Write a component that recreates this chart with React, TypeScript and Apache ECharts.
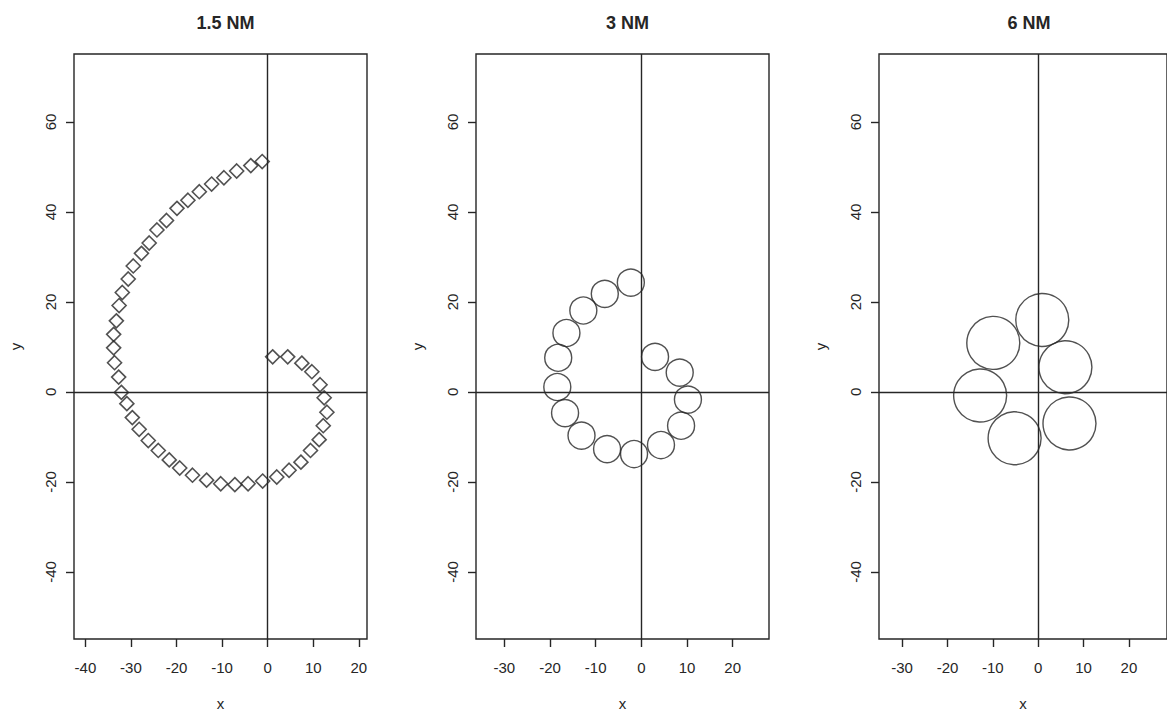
import React, { useEffect, useRef } from "react";
import * as echarts from "echarts";

const panelTitles = ["1.5 NM", "3 NM", "6 NM"];

// [x, y] centres
const nm15Points: number[][] = [
  [-1.2, 51.2], [-3.7, 50.3], [-6.8, 49.1], [-9.6, 47.6], [-12.3, 46.2], [-15.0, 44.5],
  [-17.5, 42.6], [-19.9, 40.8], [-22.2, 38.1], [-24.3, 36.0], [-26.0, 33.1], [-27.7, 30.8],
  [-29.5, 28.0], [-30.6, 25.1], [-31.9, 22.1], [-32.6, 19.2], [-33.2, 15.8], [-33.8, 12.8],
  [-33.8, 9.8], [-33.6, 6.5], [-32.7, 3.3], [-32.1, -0.1], [-30.9, -2.6], [-29.7, -5.7],
  [-28.2, -8.3], [-26.2, -10.8], [-24.0, -13.0], [-21.6, -15.1], [-19.3, -16.9], [-16.5, -18.5],
  [-13.4, -19.6], [-10.3, -20.4], [-7.2, -20.6], [-4.3, -20.4], [-1.1, -19.8], [2.0, -18.9],
  [4.7, -17.4], [7.3, -15.6], [9.4, -13.0], [11.3, -10.6], [12.2, -7.5], [13.0, -4.5],
  [12.4, -1.3], [11.5, 1.6], [9.7, 4.5], [7.5, 6.4], [4.4, 7.8], [1.1, 7.8],
];

const nm3Points: number[][] = [
  [-2.3, 24.3], [-8.0, 21.8], [-12.7, 18.1], [-16.4, 13.1], [-18.2, 7.6], [-18.4, 1.1],
  [-16.7, -4.7], [-13.1, -9.7], [-7.5, -12.7], [-1.6, -13.8], [4.3, -11.8], [8.7, -7.5],
  [10.2, -1.7], [8.4, 4.3], [3.0, 7.8],
];

const nm6Points: number[][] = [
  [0.9, 16.0], [-9.9, 10.9], [6.0, 5.5], [-12.8, -0.8], [6.9, -7.0], [-5.2, -10.3],
];

const yTicks = [-40, -20, 0, 20, 40, 60];
const xTicks1 = [-40, -30, -20, -10, 0, 10, 20];
const xTicks2 = [-30, -20, -10, 0, 10, 20];
const xTicks3 = [-30, -20, -10, 0, 10, 20];

const xRanges = [
  [-42.5, 21.8],
  [-36.2, 27.95],
  [-35.1, 28.4],
];
const yRange = [-54.9, 75.1];

const FONT = "'Liberation Sans', Arial, sans-serif";
const INK = "#262626";

export default function App() {
  const ref = useRef<HTMLDivElement>(null);
  useEffect(() => {
    if (!ref.current) return;
    const chart = echarts.init(ref.current, null, { renderer: "svg" });
    const grids = [
      { left: 74, top: 54, width: 293, height: 591 },
      { left: 476, top: 54, width: 293, height: 591 },
      { left: 879, top: 54, width: 290, height: 591 },
    ];
    const xTickSets = [xTicks1, xTicks2, xTicks3];
    const pointSets = [nm15Points, nm3Points, nm6Points];
    const symbols = ["diamond", "circle", "circle"];
    const sizes = [14, 27, 53];
    const strokes = [1.6, 1.4, 1.4];

    const option: any = {
      animation: false,
      backgroundColor: "#ffffff",
      textStyle: { fontFamily: FONT },
      title: panelTitles.map((t, i) => ({
        text: t,
        left: grids[i].left + grids[i].width / 2,
        top: 9,
        textAlign: "center",
        textStyle: { fontFamily: FONT, fontWeight: "bold", fontSize: 18, color: INK },
      })),
      grid: grids.map((g) => ({
        ...g,
        show: true,
        borderColor: INK,
        borderWidth: 1.4,
        backgroundColor: "transparent",
        containLabel: false,
      })),
      xAxis: grids.map((_, i) => ({
        type: "value",
        gridIndex: i,
        min: xRanges[i][0],
        max: xRanges[i][1],
        name: "x",
        nameLocation: "middle",
        nameGap: 57,
        nameTextStyle: { fontFamily: FONT, fontSize: 15, color: INK },
        axisLine: { show: false, onZero: false },
        axisTick: {
          show: true,
          length: 8,
          customValues: xTickSets[i],
          lineStyle: { color: INK, width: 1.4 },
        },
        axisLabel: {
          show: true,
          customValues: xTickSets[i],
          margin: 21,
          fontFamily: FONT,
          fontSize: 15,
          color: INK,
        },
        splitLine: { show: false },
      })),
      yAxis: grids.map((_, i) => ({
        type: "value",
        gridIndex: i,
        min: yRange[0],
        max: yRange[1],
        name: "y",
        nameLocation: "middle",
        nameGap: 51,
        nameRotate: 90,
        nameTextStyle: { fontFamily: FONT, fontSize: 15, color: INK },
        axisLine: { show: false, onZero: false },
        axisTick: {
          show: true,
          length: 8,
          customValues: yTicks,
          lineStyle: { color: INK, width: 1.4 },
        },
        axisLabel: {
          show: true,
          customValues: yTicks,
          rotate: 90,
          margin: 16,
          fontFamily: FONT,
          fontSize: 15,
          color: INK,
        },
        splitLine: { show: false },
      })),
      series: pointSets.map((pts, i) => ({
        type: "scatter",
        xAxisIndex: i,
        yAxisIndex: i,
        data: pts,
        symbol: symbols[i],
        symbolSize: sizes[i],
        itemStyle: {
          color: "rgba(0,0,0,0)",
          borderColor: INK,
          borderWidth: strokes[i],
        },
        emphasis: { disabled: true },
        markLine: {
          silent: true,
          symbol: "none",
          label: { show: false },
          lineStyle: { color: INK, type: "solid", width: 1.4 },
          data: [{ xAxis: 0 }, { yAxis: 0 }],
        },
      })),
    };
    chart.setOption(option);
    return () => chart.dispose();
  }, []);

  return (
    <div
      ref={ref}
      style={{ position: "absolute", left: 0, top: 0, width: 1167, height: 716, background: "#fff" }}
    />
  );
}
